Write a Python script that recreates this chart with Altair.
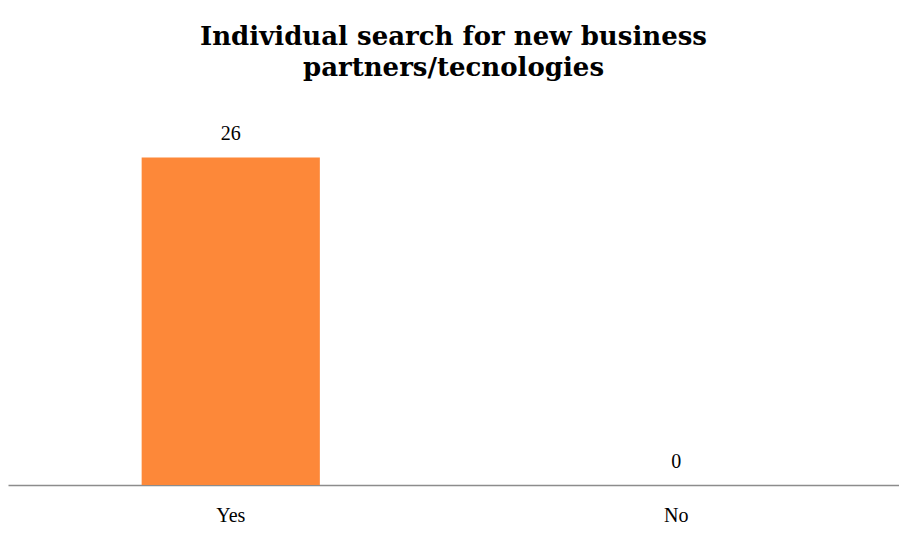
import altair as alt
import pandas as pd

categories = ["Yes", "No"]
values = [26, 0]

df = pd.DataFrame({"answer": categories, "count": values})

base = alt.Chart(df).encode(
    x=alt.X("answer:N", sort=categories,
            scale=alt.Scale(paddingInner=0.6, paddingOuter=0.3),
            axis=alt.Axis(title=None, labelAngle=0, ticks=False, labelPadding=20,
                          labelFont="Liberation Serif", labelFontSize=20,
                          labelColor="#000000", domainColor="#8c8c8c",
                          domainWidth=1.5)),
    y=alt.Y("count:Q", scale=alt.Scale(domain=[0, 30]), axis=None),
)

bars = base.mark_bar(color="#FD8839")
text = base.mark_text(baseline="bottom", dy=-13, font="Liberation Serif",
                      fontSize=20, color="#000000").encode(text="count:Q")

chart = (bars + text).properties(
    width=891, height=378,
    title=alt.TitleParams(
        text=["Individual search for new business", "partners/tecnologies"],
        font="DejaVu Serif", fontSize=26, fontWeight="bold", color="#000000",
        anchor="middle", offset=26, lineHeight=31),
    autosize=alt.AutoSizeParams(type="none"),
    padding={"left": 0, "right": 0, "top": 99, "bottom": 44},
).configure_view(stroke=None)

chart.save("out.html", embed_options={"renderer": "svg", "actions": False})
